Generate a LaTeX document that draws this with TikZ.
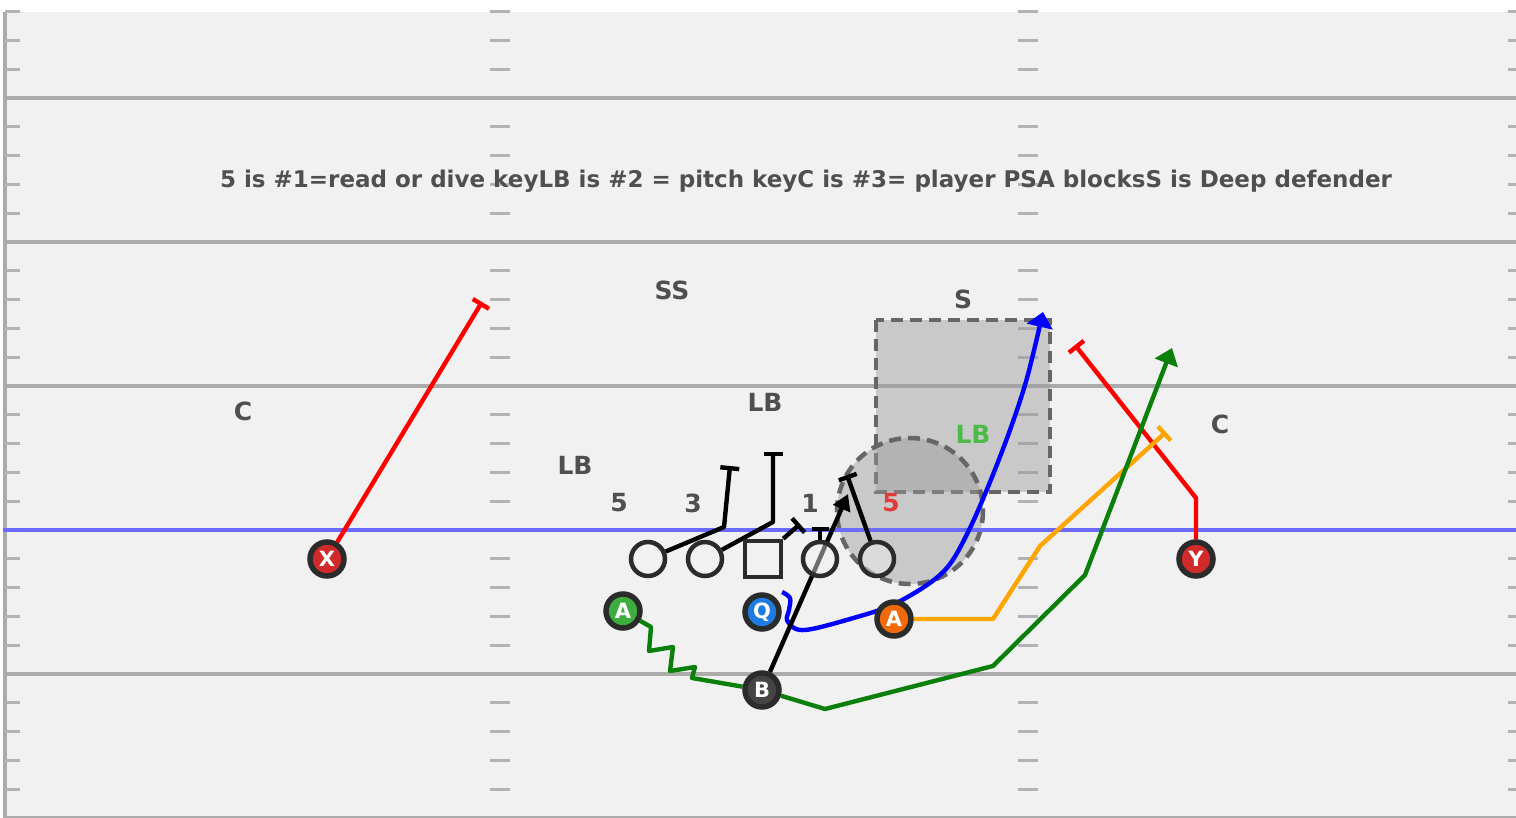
\documentclass[tikz,border=0pt]{standalone}
\usepackage{fontspec}
\setmainfont{DejaVu Sans}
\usetikzlibrary{arrows.meta}
\definecolor{fieldbg}{HTML}{F1F1F1}
\definecolor{fline}{HTML}{ABABAB}
\definecolor{ftick}{HTML}{B3B3B3}
\definecolor{los}{HTML}{6B6BFF}
\definecolor{lblgray}{HTML}{4F4F4F}
\definecolor{pdark}{HTML}{2B2B2B}
\definecolor{zonegray}{HTML}{9A9A9A}
\definecolor{zoneedge}{HTML}{666666}
\definecolor{xred}{HTML}{D12A2A}
\definecolor{agreen}{HTML}{3DAE3D}
\definecolor{qblue}{HTML}{1E7BE0}
\definecolor{aorange}{HTML}{F06A0A}
\definecolor{bgray}{HTML}{454545}
\definecolor{routegreen}{HTML}{0A800A}
\definecolor{routeorange}{HTML}{FFA500}
\definecolor{lbgreen}{HTML}{4CBB47}
\definecolor{fivered}{HTML}{E03A3A}
\pgfdeclarelayer{field}
\pgfdeclarelayer{routes}
\pgfsetlayers{field,routes,main}
\begin{document}
\begin{tikzpicture}[x=1pt,y=-1pt,
  fieldline/.style={draw=fline,line width=4.5pt},
  tickmark/.style={draw=ftick,line width=2.8pt},
  player/.style={circle,draw=pdark,line width=5.5pt,minimum size=34pt,inner sep=0pt,text=white,font=\bfseries\fontsize{21}{21}\selectfont},
  lineman/.style={circle,draw=pdark,line width=4.5pt,minimum size=34pt,inner sep=0pt,fill=fieldbg,fill opacity=0.45},
  center/.style={rectangle,draw=pdark,line width=4.5pt,minimum size=36pt,inner sep=0pt,fill=fieldbg,fill opacity=0.45},
  lbl/.style={text=lblgray,font=\bfseries\fontsize{25}{25}\selectfont,inner sep=0pt},
  route/.style={line width=4.4pt,line join=round},
  blockend/.style={-{Bar[width=19pt]}},
  arrowend/.style={-{Triangle[width=24pt,length=16pt]}},
  zone/.style={fill=zonegray,fill opacity=0.45,draw=zoneedge,draw opacity=1,line width=4.5pt,dash pattern=on 12pt off 7pt}
]
\useasboundingbox (0,0) rectangle (1516,818);
\begin{pgfonlayer}{field}
  \fill[white] (0,0) rectangle (1516,818);
  \fill[fieldbg] (3,12) rectangle (1516,818);
  \draw[draw=fline,line width=3.5pt] (5,12) -- (5,818);
  \foreach \yy in {98,242,386,674,818} {\draw[fieldline] (3,\yy) -- (1516,\yy);}
  \foreach \yy in {11.6,40.4,69.2,126.8,155.6,184.4,213.2,270.8,299.6,328.4,357.2,414.8,443.6,472.4,501.2,558.8,587.6,616.4,645.2,702.8,731.6,760.4,789.2} {
    \draw[tickmark] (5,\yy) -- (20,\yy);
    \draw[tickmark] (490,\yy) -- (510,\yy);
    \draw[tickmark] (1018,\yy) -- (1038,\yy);
    \draw[tickmark] (1508,\yy) -- (1516,\yy);
  }
  \draw[zone] (876,320) rectangle (1050,492);
  \draw[zone] (910,511) circle (73);
  \draw[draw=los,line width=4.5pt] (3,530) -- (1516,530);
\end{pgfonlayer}

% heading and labels
\node[lbl,font=\bfseries\fontsize{23}{25}\selectfont] (head) at (806,181) {5 is \#1=read or dive keyLB is \#2 = pitch keyC is \#3= player PSA blocksS is Deep defender};
\node[lbl] (ss) at (672,290) {SS};
\node[lbl] (s) at (963,299) {S};
\node[lbl] (cl) at (243,411) {C};
\node[lbl] (lbm) at (765,402) {LB};
\node[lbl] (lbl1) at (575,465) {LB};
\node[lbl] (cr) at (1220,424) {C};
\node[lbl,text=lbgreen] (lbg) at (973,434) {LB};
\node[lbl] (n5) at (619,503) {5};
\node[lbl] (n3) at (693,503) {3};
\node[lbl] (n1) at (810,503) {1};
\node[lbl,text=fivered] (n5r) at (891,503) {5};

% players
\node[lineman] (o1) at (648,559) {};
\node[lineman] (o2) at (705,559) {};
\node[center] (sq) at (763,559) {};
\node[lineman] (o4) at (820,559) {};
\node[lineman] (o5) at (877,559) {};
\node[player,fill=xred] (X) at (327,559) {X};
\node[player,fill=xred] (Y) at (1196,559) {Y};
\node[player,fill=agreen] (GA) at (623,611) {A};
\node[player,fill=qblue] (Q) at (762,612) {Q};
\node[player,fill=aorange] (OA) at (894,619) {A};
\node[player,fill=bgray] (B) at (762,690) {B};

\coordinate (qs) at (782,592);

\begin{pgfonlayer}{routes}
  % receivers
  \draw[route,red,blockend] (X) -- (482,302);
  \draw[route,red,blockend] (Y) -- (1196,498) -- (1075,345);
  \draw[route,routeorange,blockend] (OA) -- (993,619) -- (1040,546) -- (1166,432);
  \draw[route,routegreen] (GA) -- (651,627) -- (649,651) -- (673,647) -- (670,671) -- (695,667) -- (692,678) -- (B);
  \draw[route,routegreen,arrowend] (B) -- (825,709) -- (993,666) -- (1085,575) -- (1172,348);
  % qb
  \draw[route,blue,-{Triangle[width=26pt,length=15pt]}] plot[smooth,tension=0.55] coordinates {(qs) (790,598) (789,610) (787,620) (796,629) (812,629) (850,619) (890,606) (927,585) (950,564) (970,528) (990,482) (1010,430) (1027,378) (1043,312)};
  % line
  \draw[route,black,blockend] (o1) -- (724,527) -- (730,466);
  \draw[route,black,blockend] (o2) -- (773,522) -- (773,452);
  \draw[route,black,blockend] (sq.north east) -- (800,524);
  \draw[route,black,-{Bar[width=17pt]}] (o4.north) -- (820,527);
  \draw[route,black,blockend] (o5) -- (847,475);
  \draw[route,black,-{Triangle[width=18pt,length=16pt]}] (B) -- (848,494);
\end{pgfonlayer}
\end{tikzpicture}
\end{document}
